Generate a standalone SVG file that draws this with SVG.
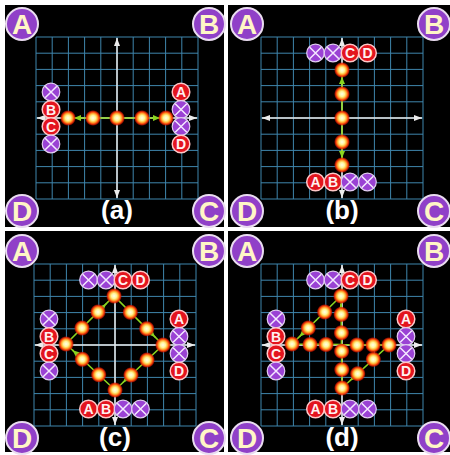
<svg xmlns="http://www.w3.org/2000/svg" xmlns:xlink="http://www.w3.org/1999/xlink" width="450" height="455" viewBox="0 0 450 455">
<style>
.panel{fill:#000}
.grid{stroke:#3f86ad;stroke-width:1;fill:none}
.axis{stroke:#ececec;stroke-width:1.5;fill:none}
.corner circle{fill:#9040c8;stroke:#eadcf0;stroke-width:2}
.corner text{fill:#fff6c6;font-family:'Liberation Sans',Arial,sans-serif;font-weight:bold;font-size:28px;text-anchor:middle}
.rm circle{fill:#e3141e;stroke:#ffc8c8;stroke-width:1.5}
.rm text{fill:#fff0f0;font-family:'Liberation Sans',Arial,sans-serif;font-weight:bold;font-size:14px;text-anchor:middle}
.con{stroke:#8ad420;stroke-width:1.6;fill:none}
.arr{stroke:#8ad420;stroke-width:1.6;fill:none}
.dot{fill:url(#glow)}
.lbl{fill:#fff;font-family:'Liberation Sans',Arial,sans-serif;font-weight:bold;font-size:26px;text-anchor:middle}
</style>
<defs>
<radialGradient id="glow">
<stop offset="0" stop-color="#ffffe8"/>
<stop offset="0.32" stop-color="#fff59a"/>
<stop offset="0.52" stop-color="#ffc040"/>
<stop offset="0.7" stop-color="#ff5a10"/>
<stop offset="0.85" stop-color="#e02000" stop-opacity="0.8"/>
<stop offset="1" stop-color="#c00000" stop-opacity="0"/>
</radialGradient>
<marker id="ax" markerUnits="userSpaceOnUse" markerWidth="8" markerHeight="6" refX="8" refY="3" orient="auto-start-reverse"><path d="M0,0L8,3L0,6z" fill="#ececec"/></marker>
<marker id="ga" markerUnits="userSpaceOnUse" markerWidth="7" markerHeight="6" refX="7" refY="3" orient="auto"><path d="M0,0L7,3L0,6z" fill="#8ad420"/></marker>
<g id="xsym"><circle r="8.8" fill="#9a42d4" stroke="#e2cdf2" stroke-width="1.2"/><path d="M-5.8,-5.8L5.8,5.8M5.8,-5.8L-5.8,5.8" stroke="#f4e8ff" stroke-width="1.5"/></g>
<g id="gridaxes">
<path class="grid" d="M36,37V199M52.2,37V199M68.4,37V199M84.6,37V199M100.8,37V199M117,37V199M133.2,37V199M149.4,37V199M165.6,37V199M181.8,37V199M198,37V199M36,37H198M36,53.2H198M36,69.4H198M36,85.6H198M36,101.8H198M36,118H198M36,134.2H198M36,150.4H198M36,166.6H198M36,182.8H198M36,199H198"/>
<path class="axis" d="M37,118H197" marker-start="url(#ax)" marker-end="url(#ax)"/>
<path class="axis" d="M117,38V198" marker-start="url(#ax)" marker-end="url(#ax)"/>
</g>
<g id="dotsym"><circle class="dot" r="8"/></g>
</defs>
<rect width="450" height="455" fill="#fff"/>

<!-- Panel A -->
<g id="panel-a">
<rect class="panel" x="5" y="5" width="219" height="222"/>
<use xlink:href="#gridaxes"/>
<g id="a-connectors">
<path class="con" d="M68,118H166"/>
<path class="arr" d="M76,118H74" marker-end="url(#ga)"/>
<path class="arr" d="M158,118H160" marker-end="url(#ga)"/>
</g>
<g id="a-left-x1"><use xlink:href="#xsym" x="51" y="92"/></g>
<g id="a-left-B" class="rm"><circle cx="51" cy="109.5" r="8.8"/><text x="51" y="114.5">B</text></g>
<g id="a-left-C" class="rm"><circle cx="51" cy="126.5" r="8.8"/><text x="51" y="131.5">C</text></g>
<g id="a-left-x2"><use xlink:href="#xsym" x="51" y="144"/></g>
<g id="a-right-A" class="rm"><circle cx="181" cy="92" r="8.8"/><text x="181" y="97">A</text></g>
<g id="a-right-x1"><use xlink:href="#xsym" x="181" y="109.5"/></g>
<g id="a-right-x2"><use xlink:href="#xsym" x="181" y="126.5"/></g>
<g id="a-right-D" class="rm"><circle cx="181" cy="144" r="8.8"/><text x="181" y="149">D</text></g>
<g id="a-dot1"><use xlink:href="#dotsym" x="68" y="118"/></g>
<g id="a-dot2"><use xlink:href="#dotsym" x="93" y="118"/></g>
<g id="a-dot3"><use xlink:href="#dotsym" x="117" y="118"/></g>
<g id="a-dot4"><use xlink:href="#dotsym" x="142" y="118"/></g>
<g id="a-dot5"><use xlink:href="#dotsym" x="166" y="118"/></g>
<g id="a-corner-A" class="corner"><circle cx="22" cy="24" r="16"/><text x="22" y="34">A</text></g>
<g id="a-corner-B" class="corner"><circle cx="209" cy="24" r="16"/><text x="209" y="34">B</text></g>
<g id="a-corner-D" class="corner"><circle cx="22" cy="211" r="16"/><text x="22" y="221">D</text></g>
<g id="a-corner-C" class="corner"><circle cx="209" cy="211" r="16"/><text x="209" y="221">C</text></g>
<text class="lbl" x="117" y="219">(a)</text>
</g>

<!-- Panel B -->
<g id="panel-b">
<rect class="panel" x="228" y="5" width="222" height="222"/>
<g transform="translate(225,0)">
<use xlink:href="#gridaxes"/>
<g id="b-connectors">
<path class="con" d="M117,70V165"/>
<path class="arr" d="M117,79V77" marker-end="url(#ga)"/>
<path class="arr" d="M117,156V158" marker-end="url(#ga)"/>
</g>
<g id="b-top-x1"><use xlink:href="#xsym" x="90.5" y="53"/></g>
<g id="b-top-x2"><use xlink:href="#xsym" x="108" y="53"/></g>
<g id="b-top-C" class="rm"><circle cx="125" cy="53" r="8.8"/><text x="125" y="58">C</text></g>
<g id="b-top-D" class="rm"><circle cx="142.5" cy="53" r="8.8"/><text x="142.5" y="58">D</text></g>
<g id="b-bot-A" class="rm"><circle cx="90.5" cy="182" r="8.8"/><text x="90.5" y="187">A</text></g>
<g id="b-bot-B" class="rm"><circle cx="108" cy="182" r="8.8"/><text x="108" y="187">B</text></g>
<g id="b-bot-x1"><use xlink:href="#xsym" x="125" y="182"/></g>
<g id="b-bot-x2"><use xlink:href="#xsym" x="142.5" y="182"/></g>
<g id="b-dot1"><use xlink:href="#dotsym" x="117" y="70"/></g>
<g id="b-dot2"><use xlink:href="#dotsym" x="117" y="94"/></g>
<g id="b-dot3"><use xlink:href="#dotsym" x="117" y="118"/></g>
<g id="b-dot4"><use xlink:href="#dotsym" x="117" y="142"/></g>
<g id="b-dot5"><use xlink:href="#dotsym" x="117" y="165"/></g>
</g>
<g id="b-corner-A" class="corner"><circle cx="247" cy="24" r="16"/><text x="247" y="34">A</text></g>
<g id="b-corner-B" class="corner"><circle cx="434" cy="24" r="16"/><text x="434" y="34">B</text></g>
<g id="b-corner-D" class="corner"><circle cx="247" cy="211" r="16"/><text x="247" y="221">D</text></g>
<g id="b-corner-C" class="corner"><circle cx="434" cy="211" r="16"/><text x="434" y="221">C</text></g>
<text class="lbl" x="342" y="219">(b)</text>
</g>

<!-- Panel C -->
<g id="panel-c">
<rect class="panel" x="5" y="231" width="219" height="221"/>
<g transform="translate(-2,227)">
<use xlink:href="#gridaxes"/>
<g id="c-connectors">
<path class="con" d="M68,117L116,69L165,118L117,163Z"/>
<path class="arr" d="M107.5,77.5L108.2,76.8" marker-end="url(#ga)"/>
<path class="arr" d="M156.5,109.5L157.2,110.2" marker-end="url(#ga)"/>
<path class="arr" d="M125.7,154.8L125,155.5" marker-end="url(#ga)"/>
<path class="arr" d="M75.3,123.8L74.6,123.2" marker-end="url(#ga)"/>
</g>
<g id="c-left-x1"><use xlink:href="#xsym" x="51" y="92"/></g>
<g id="c-left-B" class="rm"><circle cx="51" cy="109.5" r="8.8"/><text x="51" y="114.5">B</text></g>
<g id="c-left-C" class="rm"><circle cx="51" cy="126.5" r="8.8"/><text x="51" y="131.5">C</text></g>
<g id="c-left-x2"><use xlink:href="#xsym" x="51" y="144"/></g>
<g id="c-right-A" class="rm"><circle cx="181" cy="92" r="8.8"/><text x="181" y="97">A</text></g>
<g id="c-right-x1"><use xlink:href="#xsym" x="181" y="109.5"/></g>
<g id="c-right-x2"><use xlink:href="#xsym" x="181" y="126.5"/></g>
<g id="c-right-D" class="rm"><circle cx="181" cy="144" r="8.8"/><text x="181" y="149">D</text></g>
<g id="c-top-x1"><use xlink:href="#xsym" x="90.5" y="53"/></g>
<g id="c-top-x2"><use xlink:href="#xsym" x="108" y="53"/></g>
<g id="c-top-C" class="rm"><circle cx="125" cy="53" r="8.8"/><text x="125" y="58">C</text></g>
<g id="c-top-D" class="rm"><circle cx="142.5" cy="53" r="8.8"/><text x="142.5" y="58">D</text></g>
<g id="c-bot-A" class="rm"><circle cx="90.5" cy="182" r="8.8"/><text x="90.5" y="187">A</text></g>
<g id="c-bot-B" class="rm"><circle cx="108" cy="182" r="8.8"/><text x="108" y="187">B</text></g>
<g id="c-bot-x1"><use xlink:href="#xsym" x="125" y="182"/></g>
<g id="c-bot-x2"><use xlink:href="#xsym" x="142.5" y="182"/></g>
<g id="c-dot-l"><use xlink:href="#dotsym" x="68" y="117"/></g>
<g id="c-dot-lt1"><use xlink:href="#dotsym" x="84" y="101"/></g>
<g id="c-dot-lt2"><use xlink:href="#dotsym" x="100" y="85"/></g>
<g id="c-dot-t"><use xlink:href="#dotsym" x="116" y="69"/></g>
<g id="c-dot-tr1"><use xlink:href="#dotsym" x="132.3" y="85.3"/></g>
<g id="c-dot-tr2"><use xlink:href="#dotsym" x="148.7" y="101.7"/></g>
<g id="c-dot-r"><use xlink:href="#dotsym" x="165" y="118"/></g>
<g id="c-dot-rb1"><use xlink:href="#dotsym" x="149" y="133"/></g>
<g id="c-dot-rb2"><use xlink:href="#dotsym" x="133" y="148"/></g>
<g id="c-dot-b"><use xlink:href="#dotsym" x="117" y="163"/></g>
<g id="c-dot-bl1"><use xlink:href="#dotsym" x="100.7" y="147.7"/></g>
<g id="c-dot-bl2"><use xlink:href="#dotsym" x="84.3" y="132.3"/></g>
</g>
<g id="c-corner-A" class="corner"><circle cx="22" cy="251" r="16"/><text x="22" y="261">A</text></g>
<g id="c-corner-B" class="corner"><circle cx="209" cy="251" r="16"/><text x="209" y="261">B</text></g>
<g id="c-corner-D" class="corner"><circle cx="22" cy="438" r="16"/><text x="22" y="448">D</text></g>
<g id="c-corner-C" class="corner"><circle cx="209" cy="438" r="16"/><text x="209" y="448">C</text></g>
<text class="lbl" x="115" y="446">(c)</text>
</g>

<!-- Panel D -->
<g id="panel-d">
<rect class="panel" x="228" y="231" width="222" height="221"/>
<g transform="translate(225,227)">
<use xlink:href="#gridaxes"/>
<g id="d-connectors">
<path class="con" d="M116,69L67,117L164,118L117,161L116,69"/>
<path class="arr" d="M75.2,109L74.5,109.7" marker-end="url(#ga)"/>
<path class="arr" d="M154,118H156" marker-end="url(#ga)"/>
<path class="arr" d="M125.8,153L125.1,153.6" marker-end="url(#ga)"/>
<path class="arr" d="M116,79V77" marker-end="url(#ga)"/>
</g>
<g id="d-left-x1"><use xlink:href="#xsym" x="51" y="92"/></g>
<g id="d-left-B" class="rm"><circle cx="51" cy="109.5" r="8.8"/><text x="51" y="114.5">B</text></g>
<g id="d-left-C" class="rm"><circle cx="51" cy="126.5" r="8.8"/><text x="51" y="131.5">C</text></g>
<g id="d-left-x2"><use xlink:href="#xsym" x="51" y="144"/></g>
<g id="d-right-A" class="rm"><circle cx="181" cy="92" r="8.8"/><text x="181" y="97">A</text></g>
<g id="d-right-x1"><use xlink:href="#xsym" x="181" y="109.5"/></g>
<g id="d-right-x2"><use xlink:href="#xsym" x="181" y="126.5"/></g>
<g id="d-right-D" class="rm"><circle cx="181" cy="144" r="8.8"/><text x="181" y="149">D</text></g>
<g id="d-top-x1"><use xlink:href="#xsym" x="90.5" y="53"/></g>
<g id="d-top-x2"><use xlink:href="#xsym" x="108" y="53"/></g>
<g id="d-top-C" class="rm"><circle cx="125" cy="53" r="8.8"/><text x="125" y="58">C</text></g>
<g id="d-top-D" class="rm"><circle cx="142.5" cy="53" r="8.8"/><text x="142.5" y="58">D</text></g>
<g id="d-bot-A" class="rm"><circle cx="90.5" cy="182" r="8.8"/><text x="90.5" y="187">A</text></g>
<g id="d-bot-B" class="rm"><circle cx="108" cy="182" r="8.8"/><text x="108" y="187">B</text></g>
<g id="d-bot-x1"><use xlink:href="#xsym" x="125" y="182"/></g>
<g id="d-bot-x2"><use xlink:href="#xsym" x="142.5" y="182"/></g>
<g id="d-dot-t"><use xlink:href="#dotsym" x="116" y="69"/></g>
<g id="d-dot-tl1"><use xlink:href="#dotsym" x="99.7" y="85"/></g>
<g id="d-dot-tl2"><use xlink:href="#dotsym" x="83.3" y="101"/></g>
<g id="d-dot-l"><use xlink:href="#dotsym" x="67" y="117"/></g>
<g id="d-dot-h1"><use xlink:href="#dotsym" x="85" y="117.5"/></g>
<g id="d-dot-h2"><use xlink:href="#dotsym" x="101" y="117.5"/></g>
<g id="d-dot-h3"><use xlink:href="#dotsym" x="132" y="118"/></g>
<g id="d-dot-h4"><use xlink:href="#dotsym" x="148" y="118"/></g>
<g id="d-dot-r"><use xlink:href="#dotsym" x="164" y="118"/></g>
<g id="d-dot-rb1"><use xlink:href="#dotsym" x="148.3" y="132.3"/></g>
<g id="d-dot-rb2"><use xlink:href="#dotsym" x="132.7" y="146.7"/></g>
<g id="d-dot-b"><use xlink:href="#dotsym" x="117" y="161"/></g>
<g id="d-dot-v1"><use xlink:href="#dotsym" x="116.8" y="142.6"/></g>
<g id="d-dot-v2"><use xlink:href="#dotsym" x="116.6" y="124.2"/></g>
<g id="d-dot-v3"><use xlink:href="#dotsym" x="116.4" y="105.8"/></g>
<g id="d-dot-v4"><use xlink:href="#dotsym" x="116.2" y="87.4"/></g>
</g>
<g id="d-corner-A" class="corner"><circle cx="247" cy="251" r="16"/><text x="247" y="261">A</text></g>
<g id="d-corner-B" class="corner"><circle cx="434" cy="251" r="16"/><text x="434" y="261">B</text></g>
<g id="d-corner-D" class="corner"><circle cx="247" cy="438" r="16"/><text x="247" y="448">D</text></g>
<g id="d-corner-C" class="corner"><circle cx="434" cy="438" r="16"/><text x="434" y="448">C</text></g>
<text class="lbl" x="342" y="446">(d)</text>
</g>
</svg>
